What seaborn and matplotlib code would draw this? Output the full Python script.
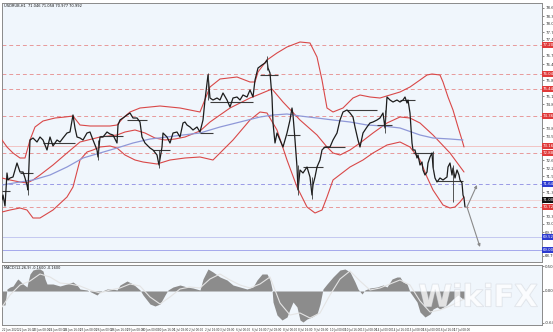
import numpy as np
import pandas as pd
import matplotlib
matplotlib.use("Agg")
import matplotlib.pyplot as plt
import matplotlib.patheffects as pe
import seaborn as sns
from matplotlib.transforms import blended_transform_factory

# ---------------- data (bar index = hour number, price = USDRUB) ----------------
price_pts = [(2,71.00),(3,71.20),(5,70.76),(7,72.08),(8,71.80),(10,71.88),(13,71.92),(15,72.20),(17,72.48),(20,72.12),
             (23,72.12),(25,71.88),(27,71.60),(28,71.40),(30,73.40),(33,73.48),(37,73.32),(40,73.52),(43,73.40),(47,73.00),
             (50,73.52),(53,73.16),(57,73.40),(60,73.32),(63,73.48),(67,73.68),(70,73.72),(73,74.40),(75,73.88),(77,73.52),
             (80,73.48),(83,73.40),(87,73.68),(90,73.72),(93,73.40),(97,73.00),(98,72.72),(100,73.52),(103,73.52),(107,73.72),
             (110,73.64),(113,73.60),(117,73.28),(118,74.00),(120,74.20),(123,74.28),(127,74.40),(130,74.48),(133,74.28),(137,74.28),
             (140,74.12),(142,73.52),(145,73.28),(147,73.20),(150,73.08),(153,73.00),(157,72.80),(159,72.40),(162,73.12),(163,73.68),
             (167,73.52),(170,73.28),(173,73.68),(177,73.72),(180,73.52),(183,74.08),(185,74.12),(187,74.00),(190,73.92),(193,73.80),
             (197,73.92),(200,73.72),(203,74.20),(205,75.00),(207,75.68),(208,76.00),(210,75.08),(213,75.00),(217,75.08),(220,75.00),
             (223,75.28),(227,75.00),(230,74.72),(233,75.08),(237,75.12),(240,75.00),(243,75.20),(247,75.12),(250,75.40),(253,75.12),
             (255,75.80),(258,76.28),(262,76.40),(265,76.48),(267,76.60),(268,76.28),(270,76.08),(272,75.12),(273,74.08),(275,73.28),
             (277,73.68),(280,73.40),(283,73.12),(287,73.68),(290,74.20),(292,74.68),(293,74.40),(295,73.40),(297,72.32),(298,71.40),
             (300,72.20),(303,72.08),(307,72.32),(310,71.92),(312,71.20),(313,71.60),(315,71.92),(317,72.32),(320,72.60),(322,73.00),
             (325,73.12),(330,73.12),(333,73.40),(337,73.68),(340,74.20),(343,74.52),(347,74.60),(350,74.48),(353,74.32),(355,73.92),
             (358,73.40),(360,73.12),(363,73.68),(367,73.92),(370,74.08),(373,74.12),(377,74.20),(380,74.28),(383,74.48),(385,73.88),
             (387,75.12),(390,75.00),(393,74.92),(397,75.00),(400,74.92),(403,75.00),(405,75.12),(407,74.88),(408,75.00),(410,74.48),
             (412,73.28),(413,73.00),(415,73.00),(417,72.68),(418,72.80),(420,72.40),(422,72.52),(423,72.20),(425,72.00),(427,72.12),
             (428,72.48),(430,72.72),(432,72.88),(433,72.32),(435,71.88),(437,71.72),(440,71.88),(443,71.80),(447,71.92),(448,72.32),
             (450,72.48),(452,72.00),(453,72.28),(455,71.88),(457,72.20),(459,72.00),(460,71.80),(462,71.68),(463,71.20),(464,71.08),
             (465,70.72)]

# a few long wicks visible on the bars: (bar, low, high)
wick_pts = [(28,71.20,71.80),(98,72.60,73.40),(159,72.30,73.00),(208,75.00,76.10),(267,76.20,76.75),(298,71.20,72.40),
            (312,71.05,71.90),(385,73.70,74.60),(433,72.20,72.95),(453,70.92,72.40)]

upper_pts = [(2,73.40),(7,73.12),(13,72.88),(20,72.68),(25,72.68),(30,73.40),(35,73.92),(43,74.16),(55,74.28),(65,74.32),
             (73,74.36),(80,74.00),(90,73.96),(110,73.96),(117,74.00),(123,74.28),(130,74.52),(140,74.68),(150,74.72),(160,74.76),
             (170,74.72),(180,74.68),(190,74.60),(200,74.52),(210,75.52),(220,75.84),(237,75.92),(250,75.72),(255,75.72),(258,76.12),
             (267,76.60),(277,76.88),(287,77.12),(300,77.32),(310,77.28),(317,76.72),(322,75.80),(327,74.68),(333,74.52),(343,74.68),
             (353,75.08),(360,75.20),(370,75.12),(380,75.08),(390,75.20),(400,75.32),(410,75.52),(420,75.80),(427,76.00),(432,76.04),
             (440,76.00),(443,75.72),(448,75.12),(453,74.60),(458,73.92),(462,73.40),(464,73.12)]

middle_pts = [(2,71.88),(10,71.80),(20,71.72),(27,71.68),(33,71.80),(40,72.00),(53,72.40),(67,72.88),(80,73.32),(100,73.52),
              (117,73.60),(125,73.72),(135,73.80),(145,73.68),(155,73.48),(165,73.40),(175,73.44),(185,73.52),(200,73.76),(210,74.12),
              (220,74.40),(230,74.68),(240,74.88),(250,75.08),(260,75.24),(272,75.44),(283,74.92),(300,74.20),(317,73.60),(327,73.12),
              (333,72.88),(340,72.80),(350,73.00),(360,73.28),(373,73.68),(387,74.08),(400,74.32),(410,74.28),(420,74.08),(433,73.60),
              (450,72.88),(464,72.12)]

lower_pts = [(2,70.52),(10,70.60),(20,70.68),(27,70.60),(33,70.28),(40,70.28),(53,70.60),(67,71.12),(73,71.52),(80,72.60),
             (87,72.92),(93,73.00),(100,73.12),(110,73.16),(117,73.08),(125,72.80),(135,72.60),(143,72.52),(157,72.44),(170,72.60),
             (185,72.68),(200,72.72),(213,72.60),(233,73.40),(250,74.20),(260,74.52),(267,74.48),(277,73.80),(287,72.60),(297,71.52),
             (307,70.72),(315,70.48),(322,70.60),(327,71.12),(333,71.80),(350,72.32),(363,72.60),(373,72.88),(387,73.20),(400,73.32),
             (410,73.12),(420,72.60),(427,71.92),(433,71.40),(443,70.80),(450,70.68),(455,70.72),(460,70.92),(464,71.12)]

ma_pts = [(2,71.60),(20,71.72),(33,71.80),(50,72.00),(67,72.32),(83,72.68),(100,72.88),(117,73.08),(133,73.28),(150,73.44),
          (167,73.52),(183,73.60),(200,73.68),(220,73.92),(240,74.12),(260,74.32),(273,74.40),(287,74.44),(300,74.36),(317,74.28),
          (333,74.20),(350,74.12),(367,74.00),(383,73.96),(400,73.88),(420,73.60),(433,73.48),(450,73.44),(463,73.40)]

# weekly pivot segments: (start bar, end bar, level)
pivot_segments = [(2,10,71.36),(20,33,72.08),(43,75,73.28),(100,123,73.56),(127,147,74.20),(153,170,73.00),
                  (200,213,73.68),(210,253,74.92),(260,278,76.00),(287,300,73.60),(303,323,72.32),(323,345,73.12),
                  (347,377,74.60),(377,392,74.00),(400,415,75.00),(413,433,72.88),(437,463,71.76)]

# horizontal levels
red_dashed_levels = [77.20, 76.04, 75.44, 74.36, 72.88, 70.72]
pale_red_levels = [73.16]
blue_dashed_levels = [71.64]
pale_blue_levels = [69.52]
blue_levels = [69.00]
current_price = 71.00

# forecast arrows: (from bar, from price, to bar, to price)
arrows = [(467, 70.72, 477, 71.60), (467, 70.72, 480, 69.12)]

macd_pts = [(2,-0.28),(5,-0.28),(7,0.04),(10,0.08),(13,0.10),(17,0.22),(18,0.24),(23,0.14),(27,0.08),(28,0.18),
            (30,0.34),(33,0.42),(37,0.44),(40,0.44),(43,0.40),(45,0.24),(47,0.14),(53,0.14),(60,0.10),(67,0.14),
            (73,0.18),(77,0.12),(80,0.04),(87,0.02),(93,-0.04),(97,-0.08),(100,-0.02),(107,0.04),(113,0.04),(117,0.02),
            (120,0.12),(127,0.20),(133,0.14),(140,0.02),(143,-0.08),(150,-0.26),(155,-0.30),(160,-0.26),(165,-0.08),(168,0.02),
            (173,0.08),(180,0.12),(187,0.08),(193,0.06),(200,0.02),(203,0.24),(208,0.44),(213,0.38),(220,0.28),(227,0.22),
            (233,0.12),(240,0.08),(247,0.04),(253,0.08),(257,0.22),(262,0.34),(267,0.34),(270,0.22),(272,0.04),(273,-0.22),
            (277,-0.48),(282,-0.58),(287,-0.52),(290,-0.36),(293,-0.22),(297,-0.32),(300,-0.58),(303,-0.62),(307,-0.56),(312,-0.52),
            (317,-0.46),(320,-0.26),(323,0.04),(327,0.14),(333,0.28),(340,0.42),(345,0.44),(350,0.38),(355,0.18),(358,0.04),
            (362,-0.06),(365,0.02),(370,0.06),(377,0.08),(383,0.12),(387,0.08),(392,0.24),(397,0.28),(400,0.28),(403,0.18),
            (407,0.14),(410,-0.02),(417,-0.22),(420,-0.42),(425,-0.52),(430,-0.46),(433,-0.36),(437,-0.32),(440,-0.36),(447,-0.28),
            (453,-0.16),(458,-0.08),(463,-0.16),(464,-0.16)]

signal_pts = [(2,-0.32),(10,-0.08),(20,0.12),(30,0.20),(40,0.34),(50,0.28),(60,0.16),(70,0.14),(80,0.10),(90,0.02),
              (100,-0.04),(110,0.02),(120,0.06),(130,0.14),(140,0.10),(150,-0.12),(160,-0.26),(170,-0.12),(180,0.04),(190,0.08),
              (200,0.06),(210,0.24),(220,0.34),(230,0.22),(240,0.12),(250,0.06),(260,0.14),(270,0.28),(280,-0.24),(290,-0.48),
              (300,-0.44),(310,-0.54),(320,-0.44),(330,-0.08),(340,0.24),(350,0.40),(360,0.20),(370,0.02),(380,0.06),(390,0.14),
              (400,0.22),(410,0.12),(420,-0.20),(430,-0.42),(440,-0.38),(450,-0.30),(464,-0.16)]

price_ticks = [68.76, 69.08, 69.40, 69.72, 70.04, 70.36, 70.68, 71.00, 71.32, 71.64, 71.96, 72.28, 72.60, 72.92, 73.24,
               73.56, 73.88, 74.20, 74.52, 74.84, 75.16, 75.48, 75.80, 76.12, 76.44, 76.76, 77.08, 77.40, 77.72, 78.04,
               78.36, 78.68]
macd_ticks = [0.50, 0.0, -0.64]
macd_tick_labels = ["0.5027", "0.00", "-0.6405"]

time_tick_pos = [2, 18, 33, 49, 64, 80, 96, 111, 127, 142, 158, 174, 189, 205, 220, 236, 252, 267, 283, 298,
                 314, 330, 345, 361, 376, 392, 408, 423, 439, 454]
time_tick_labels = ["22 Jun 2020", "22 Jun 16:00", "23 Jun 08:00", "24 Jun 00:00", "24 Jun 16:00", "25 Jun 08:00",
                    "26 Jun 00:00", "26 Jun 16:00", "29 Jun 08:00", "30 Jun 00:00", "30 Jun 16:00", "1 Jul 08:00",
                    "2 Jul 00:00", "2 Jul 16:00", "3 Jul 08:00", "6 Jul 00:00", "6 Jul 16:00", "7 Jul 08:00",
                    "8 Jul 00:00", "8 Jul 16:00", "9 Jul 08:00", "10 Jul 00:00", "10 Jul 16:00", "13 Jul 08:00",
                    "14 Jul 00:00", "14 Jul 16:00", "15 Jul 08:00", "16 Jul 00:00", "16 Jul 16:00", "17 Jul 08:00"]

title_text = "USDRUB,H1  71.046 71.058 70.977 70.992"
macd_text = "MACD(12,26,9) -0.1600 -0.1600"

# ---------------- figure ----------------
sns.set_style("white")
plt.rcParams['font.family'] = ['DejaVu Sans']

W, H = 553, 332
fig = plt.figure(figsize=(W / 100, H / 100), dpi=100)
fig.patch.set_facecolor('#ffffff')

def rect(x0, y0, x1, y1):
    return [x0 / W, 1 - y1 / H, (x1 - x0) / W, (y1 - y0) / H]

BG = '#f0f6fc'
ax = fig.add_axes(rect(2, 3, 542, 262))
ax2 = fig.add_axes(rect(2, 265, 542, 325))
for a in (ax, ax2):
    a.set_facecolor(BG)
    for s in a.spines.values():
        s.set_color('#8a8a8a')
        s.set_linewidth(0.7)
    a.set_xlim(2, 542)

ax.set_ylim(68.52, 78.88)
ax2.set_ylim(-0.68, 0.52)

def df_of(pts):
    return pd.DataFrame(pts, columns=['bar', 'val'])

# horizontal levels
for lv in red_dashed_levels:
    ax.axhline(lv, color='#e79a9a', lw=0.7, ls=(0, (4, 3)), zorder=1)
for lv in pale_red_levels:
    ax.axhline(lv, color='#f2c4c4', lw=0.7, zorder=1)
for lv in blue_dashed_levels:
    ax.axhline(lv, color='#9a9ae6', lw=0.7, ls=(0, (4, 3)), zorder=1)
for lv in pale_blue_levels:
    ax.axhline(lv, color='#c4c8f0', lw=0.7, zorder=1)
for lv in blue_levels:
    ax.axhline(lv, color='#a4a8ec', lw=0.7, zorder=1)
ax.axhline(current_price, color='#f0d0d0', lw=0.6, zorder=1)

# Bollinger bands and MA
for pts in (upper_pts, middle_pts, lower_pts):
    sns.lineplot(data=df_of(pts), x='bar', y='val', ax=ax, color='#d94848', lw=0.8,
                 estimator=None, sort=False, zorder=3)
sns.lineplot(data=df_of(ma_pts), x='bar', y='val', ax=ax, color='#8f98d8', lw=0.9,
             estimator=None, sort=False, zorder=3)

# pivot segments
seg = pd.DataFrame(pivot_segments, columns=['s', 'e', 'lv'])
ax.hlines(seg['lv'], seg['s'], seg['e'], color='#3c3c3c', lw=0.8, zorder=4)

# price
sns.lineplot(data=df_of(price_pts), x='bar', y='val', ax=ax, color='#1c1c1c', lw=0.9,
             estimator=None, sort=False, zorder=5)
wk = pd.DataFrame(wick_pts, columns=['bar', 'lo', 'hi'])
ax.vlines(wk['bar'], wk['lo'], wk['hi'], color='#3a3a3a', lw=0.6, zorder=5)

# arrows
for x0, y0, x1, y1 in arrows:
    ax.annotate('', xy=(x1, y1), xytext=(x0, y0),
                arrowprops=dict(arrowstyle='-|>', color='#8a8a8a', lw=0.8, mutation_scale=4,
                                shrinkA=0, shrinkB=0), zorder=6)

# axis ticks (right side) - skip ticks hidden by the level labels
all_levels = red_dashed_levels + pale_red_levels + blue_dashed_levels + pale_blue_levels + blue_levels + [current_price]
shown_ticks = [t for t in price_ticks if min(abs(t - lv) for lv in all_levels) > 0.2]
ax.yaxis.tick_right()
ax.set_yticks(shown_ticks)
ax.set_yticklabels([f"{v:.3f}" for v in shown_ticks])
ax.tick_params(axis='y', labelsize=2.8, length=1.5, width=0.4, pad=0.8, colors='#303030')
ax.set_xticks([])
ax.set_xlabel('')
ax.set_ylabel('')

# level labels
tr = blended_transform_factory(ax.transAxes, ax.transData)
def level_label(lv, fc):
    ax.text(1.002, lv, f"{lv:.3f}", transform=tr, fontsize=2.8, color='white', va='center', ha='left',
            bbox=dict(boxstyle='square,pad=0.15', fc=fc, ec='none'), zorder=10, clip_on=False)
for lv in red_dashed_levels + pale_red_levels:
    level_label(lv, '#e03a3a')
for lv in blue_dashed_levels + pale_blue_levels + blue_levels:
    level_label(lv, '#2c3ad0')
level_label(current_price, '#111111')

ax.text(0.003, 0.997, title_text, transform=ax.transAxes, fontsize=2.6, va='top', ha='left', color='#111111')

# MACD panel
mdf = df_of(macd_pts)
ax2.fill_between(mdf['bar'], 0, mdf['val'], color='#8c8c8c', lw=0, zorder=2)
sns.lineplot(data=df_of(signal_pts), x='bar', y='val', ax=ax2, color='#e4e4e4', lw=0.8,
             estimator=None, sort=False, zorder=3)
ax2.yaxis.tick_right()
ax2.set_yticks(macd_ticks)
ax2.set_yticklabels(macd_tick_labels)
ax2.tick_params(axis='y', labelsize=2.8, length=1.5, width=0.4, pad=0.8, colors='#303030')
ax2.set_xticks(time_tick_pos)
ax2.set_xticklabels(time_tick_labels)
ax2.tick_params(axis='x', labelsize=2.0, length=1.5, width=0.4, pad=0.8, colors='#303030')
for lbl in ax2.get_xticklabels():
    lbl.set_ha('left')
ax2.set_xlabel('')
ax2.set_ylabel('')
ax2.text(0.003, 0.985, macd_text, transform=ax2.transAxes, fontsize=2.5, va='top', ha='left', color='#111111')

# watermark
fig.text(478 / W, 1 - 298 / H, "WikiFX", fontsize=22, fontweight='bold', color='#ffffff', alpha=0.5,
         ha='center', va='center', zorder=20,
         path_effects=[pe.withStroke(linewidth=0.8, foreground='#c8ccd3')])

fig.savefig('out.png', dpi=100, facecolor=fig.get_facecolor())
